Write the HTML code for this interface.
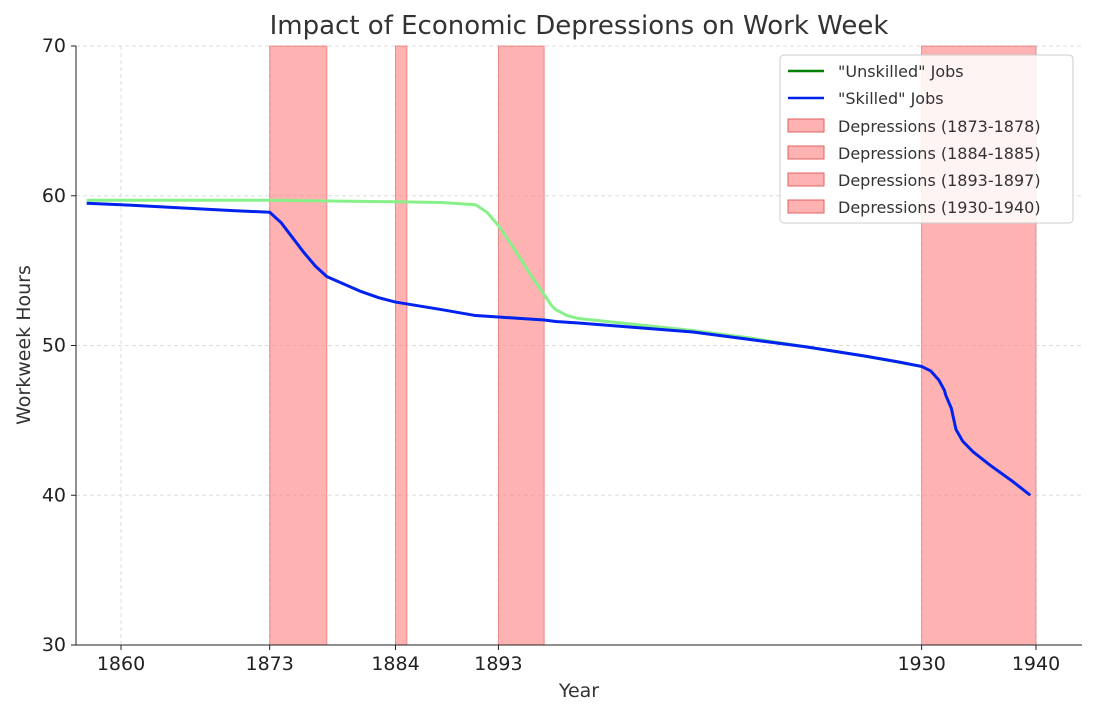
<!DOCTYPE html>
<html><head><meta charset="utf-8"><style>
body{margin:0;background:#fff;font-family:"Liberation Sans","DejaVu Sans",sans-serif}
</style></head><body>
<svg id="chart" width="1095" height="715" xmlns="http://www.w3.org/2000/svg" font-family="DejaVu Sans, Liberation Sans, sans-serif">
<text x="579" y="34" font-size="26" text-anchor="middle" fill="#333">Impact of Economic Depressions on Work Week</text>
<g id="grid"></g><g id="spans"></g><g id="lines"></g><g id="axes"></g>
<text x="579" y="697" font-size="19" text-anchor="middle" fill="#333">Year</text>
<text transform="translate(30,345) rotate(-90)" font-size="19" text-anchor="middle" fill="#333">Workweek Hours</text>
<g>
<rect x="780" y="55" width="293" height="168" rx="4" fill="#fff" fill-opacity="0.85" stroke="#ccc"/>
<line x1="788" y1="71" x2="824" y2="71" stroke="green" stroke-width="2.5"/>
<text x="838" y="77" font-size="16" fill="#333">"Unskilled" Jobs</text>
<line x1="788" y1="98" x2="824" y2="98" stroke="#0022ee" stroke-width="2.5"/>
<text x="838" y="104" font-size="16" fill="#333">"Skilled" Jobs</text>
<g id="legend-spans"></g>
</g>
</svg>
<script>
const years=[1857,1860,1865,1870,1873,1874,1875,1876,1877,1878,1879.5,1881,1882.5,1884,1888,1891,1893,1895,1897,1898,1900,1905,1910,1915,1920,1925,1928,1930,1930.8,1931.5,1932,1932.1,1932.6,1933,1933.6,1934.5,1936,1938,1939.5];
const skilled=[59.5,59.4,59.2,59.0,58.9,58.2,57.2,56.2,55.3,54.6,54.1,53.6,53.2,52.9,52.4,52.0,51.9,51.8,51.7,51.6,51.5,51.2,50.9,50.4,49.9,49.3,48.9,48.6,48.3,47.7,47.0,46.7,45.8,44.4,43.6,42.9,42.0,40.9,40.0];
const unskYears=[1857,1873,1884,1888,1891,1892,1893,1894,1895,1896,1897,1897.6,1898,1899,1900,1905,1910,1915,1920,1925,1930];
const unskilled=[59.7,59.7,59.6,59.55,59.4,58.9,58.0,56.9,55.7,54.5,53.4,52.7,52.4,52.0,51.8,51.4,51.0,50.5,49.9,49.3,48.6];
const depStart=[1873,1884,1893,1930];
const depEnd=[1878,1885,1897,1940];
const xTicks=[1860,1873,1884,1893,1930,1940];
const yTicks=[30,40,50,60,70];
const X=v=>121+(v-1860)*11.4375, Y=v=>645-(v-30)*14.975;
const NS="http://www.w3.org/2000/svg";
function mk(p,t,a){const e=document.createElementNS(NS,t);for(const k in a)e.setAttribute(k,a[k]);document.getElementById(p).appendChild(e);return e;}
xTicks.forEach(t=>{
 const g=mk('grid','line',{x1:X(t),x2:X(t),y1:46,y2:645,stroke:'#ddd','stroke-dasharray':'4,3'});
 
 
 const l=mk('axes','text',{x:X(t),y:670,'font-size':19,'text-anchor':'middle',fill:'#222'});l.textContent=t;
 
 
 mk('axes','line',{x1:X(t),x2:X(t),y1:645,y2:650,stroke:'#222'});
});
yTicks.forEach(t=>{
 const g=mk('grid','line',{x1:76,x2:1082,y1:Y(t),y2:Y(t),stroke:'#ddd','stroke-dasharray':'4,3'});
 
 
 const l=mk('axes','text',{x:66,y:Y(t)+6,'font-size':19,'text-anchor':'end',fill:'#222'});l.textContent=t;
 
 
 mk('axes','line',{x1:71,x2:76,y1:Y(t),y2:Y(t),stroke:'#222'});
});
mk('axes','line',{x1:76,x2:76,y1:46,y2:645,stroke:'#222'});
mk('axes','line',{x1:76,x2:1082,y1:645,y2:645,stroke:'#222'});
depStart.forEach((s,i)=>{
 const r=mk('spans','rect',{x:X(s),y:46,width:X(depEnd[i])-X(s),height:599,fill:'#ff7f7f','fill-opacity':0.6,stroke:'#e06060','stroke-opacity':0.6});
 
 
 const ly=112+i*27;
 mk('legend-spans','rect',{x:788,y:ly+7,width:36,height:13,fill:'#ff7f7f','fill-opacity':0.6,stroke:'#e06060'});
 const t=mk('legend-spans','text',{x:838,y:ly+20,'font-size':16,fill:'#333'});
 t.textContent='Depressions ('+s+'-'+depEnd[i]+')';
});
const u=mk('lines','path',{d:unskYears.map((y,i)=>(i?'L':'M')+X(y)+','+Y(unskilled[i])).join(''),fill:'none',stroke:'#88f088','stroke-width':3,'stroke-linejoin':'round'});


const s=mk('lines','path',{d:years.map((y,i)=>(i?'L':'M')+X(y)+','+Y(skilled[i])).join(''),fill:'none',stroke:'#0022ee','stroke-width':3,'stroke-linejoin':'round'});


</script>
</body></html>
